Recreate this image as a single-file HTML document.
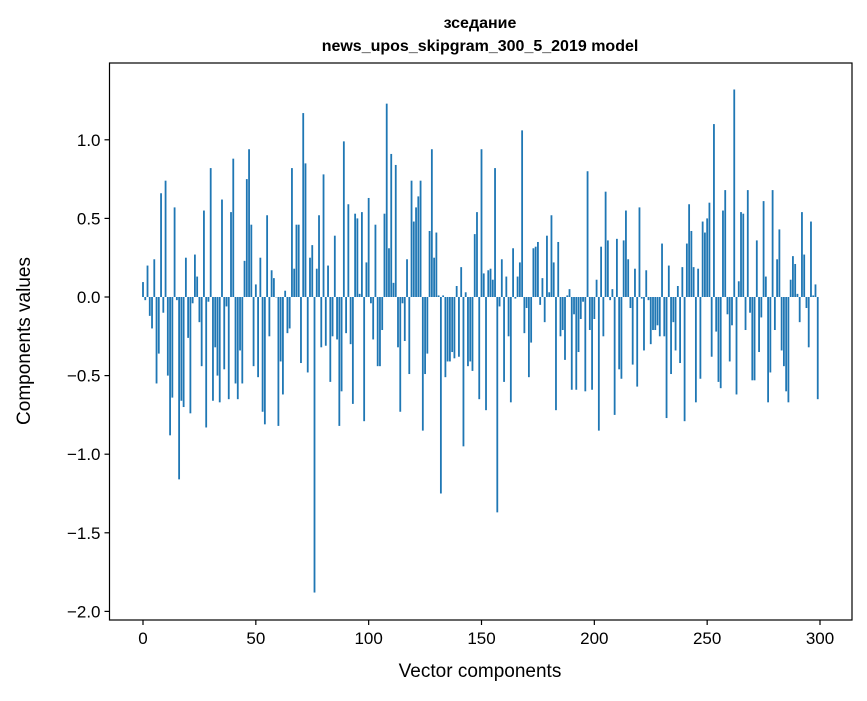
<!DOCTYPE html>
<html><head><meta charset="utf-8"><style>
html,body{margin:0;padding:0;background:#fff;}
svg text{font-family:"Liberation Sans","DejaVu Sans",sans-serif;fill:#000;}
</style></head><body>
<svg id="chart" width="867" height="696" viewBox="0 0 867 696" xmlns="http://www.w3.org/2000/svg">
<rect width="867" height="696" fill="#fff"/>
<text x="480" y="28" text-anchor="middle" font-size="16" font-weight="bold">зседание</text>
<text x="480" y="51" text-anchor="middle" font-size="16" font-weight="bold">news_upos_skipgram_300_5_2019 model</text>
<g id="bars"></g>
<g id="axes"></g>
<text x="480" y="677" text-anchor="middle" font-size="19">Vector components</text>
<text x="0" y="0" transform="translate(30,341) rotate(-90)" text-anchor="middle" font-size="19">Components values</text>
</svg>
<script>
const values = [
0.095,-0.02,0.2,-0.12,-0.2,0.24,-0.55,-0.36,0.66,-0.1,
0.74,-0.5,-0.88,-0.64,0.57,-0.02,-1.16,-0.66,-0.7,0.25,
-0.26,-0.74,-0.04,0.27,0.13,-0.16,-0.44,0.55,-0.83,-0.03,
0.82,-0.66,-0.32,-0.5,-0.67,0.62,-0.46,-0.06,-0.65,0.54,
0.88,-0.55,-0.65,-0.34,-0.55,0.23,0.75,0.94,0.46,-0.44,
0.08,-0.51,0.25,-0.73,-0.81,0.52,-0.25,0.17,0.12,0.0,
-0.82,-0.41,-0.62,0.04,-0.23,-0.2,0.82,0.18,0.46,0.46,
-0.42,1.17,0.85,-0.48,0.25,0.33,-1.88,0.18,0.52,-0.32,
0.78,-0.31,0.2,-0.54,-0.25,0.39,-0.27,-0.82,-0.6,0.99,
-0.23,0.59,-0.3,-0.68,0.53,0.5,0.02,0.54,-0.79,0.22,
0.63,-0.04,-0.27,0.46,-0.44,-0.44,-0.21,0.53,1.23,0.31,
0.91,0.09,0.84,-0.32,-0.73,-0.04,-0.28,0.24,-0.49,0.74,
0.48,0.57,0.64,0.74,-0.85,-0.49,-0.36,0.42,0.94,0.25,
0.41,0.01,-1.25,0.01,-0.51,-0.41,-0.41,-0.35,-0.39,0.07,
-0.38,0.19,-0.95,0.03,-0.44,-0.41,-0.47,0.4,0.54,-0.65,
0.94,0.15,-0.72,0.17,0.18,0.11,0.82,-1.37,-0.06,0.24,
-0.54,0.13,-0.25,-0.67,0.31,-0.01,0.13,0.22,1.06,-0.23,
-0.07,-0.51,-0.29,0.31,0.32,0.35,-0.05,0.12,-0.16,0.39,
0.03,0.52,0.22,-0.72,0.35,-0.25,-0.21,-0.4,0.01,0.05,
-0.59,-0.11,-0.59,-0.35,-0.14,-0.03,-0.6,0.8,-0.21,-0.59,
-0.14,0.11,-0.85,0.32,-0.25,0.67,0.36,-0.02,0.05,-0.75,
0.37,-0.46,-0.52,0.36,0.55,0.24,-0.07,-0.43,0.18,-0.57,
0.57,-0.01,-0.34,0.17,-0.02,-0.3,-0.21,-0.21,-0.18,-0.25,
0.34,-0.25,-0.77,0.2,-0.49,-0.16,-0.34,0.07,-0.42,0.19,
-0.79,0.34,0.59,0.42,0.19,-0.67,0.18,-0.52,0.48,0.41,
0.5,0.6,-0.38,1.1,-0.22,-0.54,-0.58,0.55,0.68,-0.11,
-0.41,-0.18,1.32,-0.62,0.1,0.54,0.53,-0.21,0.68,-0.1,
-0.53,-0.53,0.36,-0.35,-0.13,0.61,0.13,-0.67,-0.48,0.68,
-0.21,0.24,0.43,-0.34,-0.44,-0.6,-0.67,0.11,0.26,0.21,
0.02,-0.16,0.54,0.27,-0.07,-0.32,0.48,0.01,0.08,-0.65
];
const xTicks = [0,50,100,150,200,250,300];
const yTicks = [-2.0,-1.5,-1.0,-0.5,0.0,0.5,1.0];
const yTickLabels = ["\u22122.0","\u22121.5","\u22121.0","\u22120.5","0.0","0.5","1.0"];

const L=109.5,R=852,T=63,B=620;
function xs(v){return 143+v*(820-143)/300;}
function ys(v){return 297-v*157.2;}
const NS="http://www.w3.org/2000/svg";
const bars=document.getElementById('bars');
const axes=document.getElementById('axes');
values.forEach((v,i)=>{
  const r=document.createElementNS(NS,'rect');
  const w=0.8*(820-143)/300;
  const y0=ys(0),y1=ys(v);
  r.setAttribute('x',xs(i)-w/2);
  r.setAttribute('y',Math.min(y0,y1));
  r.setAttribute('width',w);
  r.setAttribute('height',Math.max(Math.abs(y1-y0),0.3));
  r.setAttribute('fill','#1f77b4');
  
  
  bars.appendChild(r);
});
const frame=document.createElementNS(NS,'rect');
frame.setAttribute('x',L);frame.setAttribute('y',T);
frame.setAttribute('width',R-L);frame.setAttribute('height',B-T);
frame.setAttribute('fill','none');frame.setAttribute('stroke','#000');frame.setAttribute('stroke-width','1.2');


axes.appendChild(frame);
xTicks.forEach(t=>{
  const l=document.createElementNS(NS,'line');
  l.setAttribute('x1',xs(t));l.setAttribute('x2',xs(t));l.setAttribute('y1',B);l.setAttribute('y2',B+5);
  l.setAttribute('stroke','#000');l.setAttribute('stroke-width','1.2');
  
  
  axes.appendChild(l);
  const tx=document.createElementNS(NS,'text');
  tx.setAttribute('x',xs(t));tx.setAttribute('y',B+24);tx.setAttribute('text-anchor','middle');tx.setAttribute('font-size','17');
  tx.textContent=t;
  
  
  axes.appendChild(tx);
});
yTicks.forEach((t,i)=>{
  const l=document.createElementNS(NS,'line');
  l.setAttribute('x1',L-5);l.setAttribute('x2',L);l.setAttribute('y1',ys(t));l.setAttribute('y2',ys(t));
  l.setAttribute('stroke','#000');l.setAttribute('stroke-width','1.2');
  
  
  axes.appendChild(l);
  const tx=document.createElementNS(NS,'text');
  tx.setAttribute('x',L-9);tx.setAttribute('y',ys(t)+6);tx.setAttribute('text-anchor','end');tx.setAttribute('font-size','17');
  tx.textContent=yTickLabels[i];
  
  
  axes.appendChild(tx);
});
</script>
</body></html>
